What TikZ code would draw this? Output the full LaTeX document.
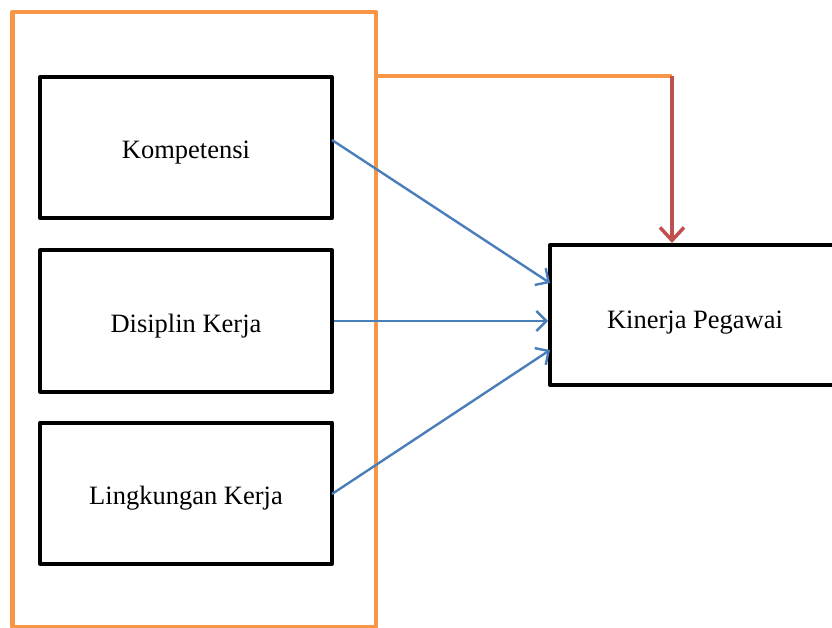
\documentclass[tikz,border=0pt]{standalone}
\usepackage{fontspec}
\setmainfont{Liberation Serif}
\usetikzlibrary{arrows.meta}
\definecolor{orng}{HTML}{F79646}
\definecolor{redd}{HTML}{C0504D}
\definecolor{blu}{HTML}{4A7EBB}
\begin{document}
\begin{tikzpicture}[x=1pt,y=-1pt,
  varbox/.style={draw=black,line width=4pt,line join=round,minimum width=292pt,minimum height=141pt,inner sep=0pt,text height=28pt,text depth=6pt,font=\fontsize{26.5}{30}\selectfont},
  influence/.style={draw=blu,line width=2.4pt,-{Straight Barb[length=10pt,width=20pt,line width=2.4pt]}},
  joint/.style={draw=redd,line width=3.5pt,-{Straight Barb[length=13pt,width=24pt,line width=3.5pt]}}]
\useasboundingbox (0,0) rectangle (832,628);
\node[draw=orng,line width=4.5pt,line join=round,minimum width=363.5pt,minimum height=615pt,inner sep=0pt] (outer) at (194.25,319.5) {};
\node[varbox] (k) at (186,147.5) {Kompetensi};
\node[varbox] (d) at (186,321) {Disiplin Kerja};
\node[varbox] (l) at (186,493) {Lingkungan Kerja};
\node[varbox,minimum width=290pt,minimum height=140pt,text height=32pt] (y) at (695,315) {Kinerja Pegawai};
\coordinate (ks) at (332,140);
\coordinate (ls) at (332,494);
\coordinate (ye1) at (550,283);
\coordinate (ye3) at (550,350);
\coordinate (corner) at (672,76);
\draw[influence] (ks) -- (ye1);
\draw[influence] (d.east) -- (y.west |- d.east);
\draw[influence] (ls) -- (ye3);
\draw[draw=orng,line width=3.5pt] (outer.east |- corner) -- (corner);
\draw[joint] (corner) -- (corner |- y.north);
\end{tikzpicture}
\end{document}
